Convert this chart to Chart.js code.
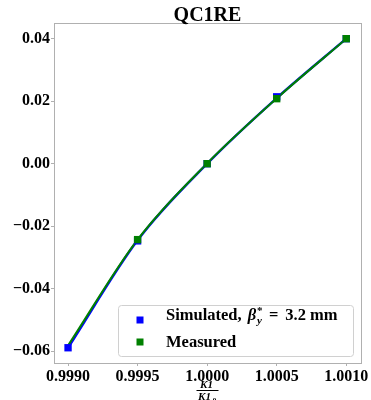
<!DOCTYPE html>
<html>
<head>
<meta charset="utf-8">
<script src="https://cdn.jsdelivr.net/npm/chart.js@4/dist/chart.umd.min.js"></script>
<style>
  html, body { margin: 0; padding: 0; background: #fff; }
  #wrap { width: 371px; height: 400px; position: relative; }
</style>
</head>
<body>
<div id="wrap"><canvas id="c"></canvas></div>
<script>
const kRatio = [0.9990, 0.9995, 1.0000, 1.0005, 1.0010];
const simulated = [-0.0589, -0.0247, 0.0000, 0.0214, 0.0400];
const measured = [null, -0.0243, 0.0000, 0.0208, 0.0400];
const simulatedFit = [-0.0589, -0.0245, 0.0000, 0.0210, 0.0400];
const measuredFit = [-0.0582, -0.0243, 0.0001, 0.0209, 0.0400];
const xTicks = [0.9990, 0.9995, 1.0000, 1.0005, 1.0010];
const yTicks = [-0.06, -0.04, -0.02, 0.00, 0.02, 0.04];

const BLUE = "#0000ff";
const GREEN = "#008000";
const SERIF = "'Liberation Serif', 'DejaVu Serif', serif";

function pts(ys) {
  return kRatio.map((x, i) => ({x: x, y: ys[i]}));
}

function minus(s) {
  return s.replace("-", "\u2212");
}

const extras = {
  id: "extras",
  afterDraw(chart) {
    const ctx = chart.ctx;
    const a = chart.chartArea;
    ctx.save();
    // frame
    ctx.strokeStyle = "#b0b0b0";
    ctx.lineWidth = 1;
    ctx.strokeRect(Math.round(a.left) + 0.5, Math.round(a.top) + 0.5,
      Math.round(a.right - a.left), Math.round(a.bottom - a.top));

    // title
    ctx.fillStyle = "#000";
    ctx.textAlign = "center";
    ctx.textBaseline = "alphabetic";
    ctx.font = "bold 20px " + SERIF;
    ctx.fillText("QC1RE", (a.left + a.right) / 2, 21);

    // x label as a fraction
    const cx = (a.left + a.right) / 2;
    ctx.font = "italic bold 11px " + SERIF;
    ctx.fillText("K1", cx - 1, 388);
    ctx.beginPath();
    ctx.moveTo(cx - 11, 390.5);
    ctx.lineTo(cx + 11, 390.5);
    ctx.strokeStyle = "#000";
    ctx.stroke();
    ctx.fillText("K1", cx - 3, 400);
    ctx.font = "bold 7px " + SERIF;
    ctx.fillText("0", cx + 7, 402);

    // legend
    const lx = 118.5, ly = 305.5, lw = 235, lh = 51;
    ctx.beginPath();
    ctx.roundRect(lx, ly, lw, lh, 3);
    ctx.fillStyle = "rgba(255,255,255,0.85)";
    ctx.fill();
    ctx.strokeStyle = "#d0d0d0";
    ctx.stroke();

    ctx.fillStyle = BLUE;
    ctx.fillRect(136.5, 316.5, 7, 7);
    ctx.fillStyle = GREEN;
    ctx.fillRect(136.5, 338.5, 7, 7);

    ctx.fillStyle = "#000";
    ctx.textAlign = "left";
    let x = 166;
    const y1 = 320;
    ctx.font = "bold 16.5px " + SERIF;
    ctx.fillText("Simulated,", x, y1);
    x += ctx.measureText("Simulated,").width + 6;
    ctx.font = "italic bold 16.5px " + SERIF;
    ctx.fillText("\u03b2", x, y1);
    x += ctx.measureText("\u03b2").width + 1;
    ctx.font = "bold 11px " + SERIF;
    ctx.fillText("*", x, y1 - 6);
    ctx.font = "italic bold 11px " + SERIF;
    ctx.fillText("y", x, y1 + 4);
    x += ctx.measureText("y").width + 7;
    ctx.font = "bold 16.5px " + SERIF;
    ctx.fillText("=", x, y1);
    x += ctx.measureText("=").width + 7;
    ctx.fillText("3.2 mm", x, y1);
    ctx.fillText("Measured", 166, 346.5);
    ctx.restore();
  }
};

new Chart(document.getElementById("c"), {
  type: "scatter",
  data: {
    datasets: [
      {
        label: "Measured",
        data: pts(measured),
        backgroundColor: GREEN,
        borderColor: GREEN,
        pointStyle: "rect",
        pointRadius: 5.2,
        borderWidth: 0,
        order: 0,
      },
      {
        label: "Simulated",
        data: pts(simulated),
        backgroundColor: BLUE,
        borderColor: BLUE,
        pointStyle: "rect",
        pointRadius: 5.2,
        borderWidth: 0,
        order: 1,
      },
      {
        label: "Measured fit",
        data: pts(measuredFit),
        showLine: true,
        borderColor: GREEN,
        borderWidth: 2,
        pointRadius: 0,
        cubicInterpolationMode: "monotone",
        order: 2,
      },
      {
        label: "Simulated fit",
        data: pts(simulatedFit),
        showLine: true,
        borderColor: BLUE,
        borderWidth: 2.4,
        pointRadius: 0,
        cubicInterpolationMode: "monotone",
        order: 3,
      },
    ],
  },
  options: {
    responsive: true,
    maintainAspectRatio: false,
    animation: false,
    devicePixelRatio: 1,
    layout: {padding: {top: 23, right: 10, left: 0, bottom: 0}},
    plugins: {
      legend: {display: false},
      tooltip: {enabled: false},
    },
    scales: {
      x: {
        type: "linear",
        min: 0.998899,
        max: 1.001106,
        afterBuildTicks: (s) => { s.ticks = xTicks.map((v) => ({value: v})); },
        afterFit: (s) => { s.height = 37; },
        grid: {display: true, drawOnChartArea: false, tickLength: 3, color: "#b0b0b0"},
        border: {display: false},
        ticks: {
          color: "#000",
          padding: 1,
          maxRotation: 0,
          font: {family: SERIF, size: 16, weight: "bold"},
          callback: (v) => v.toFixed(4),
        },
      },
      y: {
        type: "linear",
        min: -0.06378,
        max: 0.04502,
        afterBuildTicks: (s) => { s.ticks = yTicks.map((v) => ({value: v})); },
        afterFit: (s) => { s.width = 54; },
        grid: {display: true, drawOnChartArea: false, tickLength: 3, color: "#b0b0b0"},
        border: {display: false},
        ticks: {
          color: "#000",
          padding: 1,
          font: {family: SERIF, size: 16, weight: "bold"},
          callback: (v) => minus(v.toFixed(2)),
        },
      },
    },
  },
  plugins: [extras],
});
</script>
</body>
</html>
